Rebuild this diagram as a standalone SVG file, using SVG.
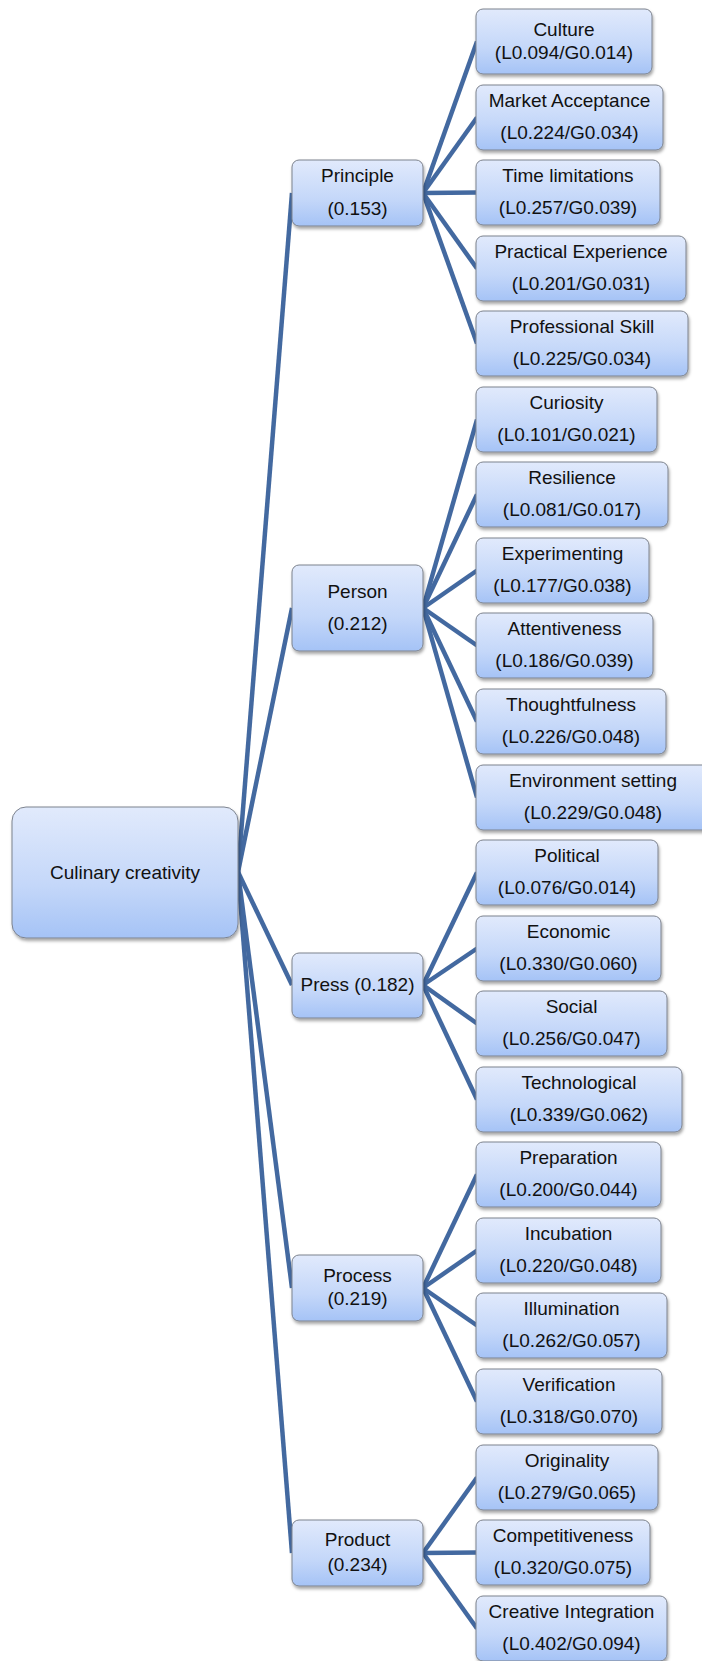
<svg xmlns="http://www.w3.org/2000/svg" width="702" height="1661" viewBox="0 0 702 1661">
<style>
.box{fill:url(#g);stroke:#7d838e;stroke-width:1;filter:url(#sh)}
.t{font-family:"Liberation Sans",Arial,sans-serif;font-size:19px;fill:#111;text-anchor:middle}
.c line{stroke:#4369a0;stroke-width:4.5}
</style>
<defs>
<linearGradient id="g" x1="0" y1="0" x2="0" y2="1">
<stop offset="0" stop-color="#e1eafc"/>
<stop offset="0.6" stop-color="#c4d7f9"/>
<stop offset="1" stop-color="#a5c3f6"/>
</linearGradient>
<filter id="sh" x="-10%" y="-10%" width="125%" height="130%">
<feDropShadow dx="1" dy="2.5" stdDeviation="1.5" flood-color="#000" flood-opacity="0.35"/>
</filter>
</defs>
<g id="connectors" class="c">
<line x1="238" y1="872" x2="292" y2="193"/>
<line x1="238" y1="872" x2="292" y2="608"/>
<line x1="238" y1="872" x2="292" y2="985"/>
<line x1="238" y1="872" x2="292" y2="1288"/>
<line x1="238" y1="872" x2="292" y2="1553"/>
<line x1="423" y1="193" x2="477" y2="41.5"/>
<line x1="423" y1="193" x2="477" y2="117.5"/>
<line x1="423" y1="193" x2="477" y2="192.5"/>
<line x1="423" y1="193" x2="477" y2="268.5"/>
<line x1="423" y1="193" x2="477" y2="343.5"/>
<line x1="423" y1="608" x2="477" y2="419.5"/>
<line x1="423" y1="608" x2="477" y2="494.5"/>
<line x1="423" y1="608" x2="477" y2="570.5"/>
<line x1="423" y1="608" x2="477" y2="645.5"/>
<line x1="423" y1="608" x2="477" y2="721.5"/>
<line x1="423" y1="608" x2="477" y2="797.5"/>
<line x1="423" y1="985" x2="477" y2="872.5"/>
<line x1="423" y1="985" x2="477" y2="948.5"/>
<line x1="423" y1="985" x2="477" y2="1023.5"/>
<line x1="423" y1="985" x2="477" y2="1099.5"/>
<line x1="423" y1="1288" x2="477" y2="1174.5"/>
<line x1="423" y1="1288" x2="477" y2="1250.5"/>
<line x1="423" y1="1288" x2="477" y2="1325.5"/>
<line x1="423" y1="1288" x2="477" y2="1401.5"/>
<line x1="423" y1="1553" x2="477" y2="1477.5"/>
<line x1="423" y1="1553" x2="477" y2="1552.5"/>
<line x1="423" y1="1553" x2="477" y2="1628.5"/>
</g>
<g id="root"><rect class="box" x="12" y="807" width="226" height="131" rx="14"/><text class="t" x="125" y="879">Culinary creativity</text></g>
<g id="principle"><rect class="box" x="292" y="160" width="131" height="66" rx="7"/><text class="t" x="357.5" y="182">Principle</text><text class="t" x="357.5" y="215">(0.153)</text></g>
<g id="person"><rect class="box" x="292" y="565" width="131" height="86" rx="7"/><text class="t" x="357.5" y="598">Person</text><text class="t" x="357.5" y="630">(0.212)</text></g>
<g id="press"><rect class="box" x="292" y="953" width="131" height="65" rx="7"/><text class="t" x="357.5" y="991">Press (0.182)</text></g>
<g id="process"><rect class="box" x="292" y="1255" width="131" height="66" rx="7"/><text class="t" x="357.5" y="1282">Process</text><text class="t" x="357.5" y="1305">(0.219)</text></g>
<g id="product"><rect class="box" x="292" y="1520" width="131" height="66" rx="7"/><text class="t" x="357.5" y="1546">Product</text><text class="t" x="357.5" y="1571">(0.234)</text></g>
<g id="culture"><rect class="box" x="476" y="9" width="176" height="65" rx="7"/><text class="t" x="564" y="36">Culture</text><text class="t" x="564" y="59">(L0.094/G0.014)</text></g>
<g id="market"><rect class="box" x="476" y="85" width="187" height="65" rx="7"/><text class="t" x="569.5" y="107">Market Acceptance</text><text class="t" x="569.5" y="139">(L0.224/G0.034)</text></g>
<g id="time"><rect class="box" x="476" y="160" width="184" height="65" rx="7"/><text class="t" x="568" y="182">Time limitations</text><text class="t" x="568" y="214">(L0.257/G0.039)</text></g>
<g id="practical"><rect class="box" x="476" y="236" width="210" height="65" rx="7"/><text class="t" x="581" y="258">Practical Experience</text><text class="t" x="581" y="290">(L0.201/G0.031)</text></g>
<g id="professional"><rect class="box" x="476" y="311" width="212" height="65" rx="7"/><text class="t" x="582" y="333">Professional Skill</text><text class="t" x="582" y="365">(L0.225/G0.034)</text></g>
<g id="curiosity"><rect class="box" x="476" y="387" width="181" height="65" rx="7"/><text class="t" x="566.5" y="409">Curiosity</text><text class="t" x="566.5" y="441">(L0.101/G0.021)</text></g>
<g id="resilience"><rect class="box" x="476" y="462" width="192" height="65" rx="7"/><text class="t" x="572" y="484">Resilience</text><text class="t" x="572" y="516">(L0.081/G0.017)</text></g>
<g id="experimenting"><rect class="box" x="476" y="538" width="173" height="65" rx="7"/><text class="t" x="562.5" y="560">Experimenting</text><text class="t" x="562.5" y="592">(L0.177/G0.038)</text></g>
<g id="attentiveness"><rect class="box" x="476" y="613" width="177" height="65" rx="7"/><text class="t" x="564.5" y="635">Attentiveness</text><text class="t" x="564.5" y="667">(L0.186/G0.039)</text></g>
<g id="thoughtfulness"><rect class="box" x="476" y="689" width="190" height="65" rx="7"/><text class="t" x="571" y="711">Thoughtfulness</text><text class="t" x="571" y="743">(L0.226/G0.048)</text></g>
<g id="environment"><rect class="box" x="476" y="765" width="234" height="65" rx="7"/><text class="t" x="593" y="787">Environment setting</text><text class="t" x="593" y="819">(L0.229/G0.048)</text></g>
<g id="political"><rect class="box" x="476" y="840" width="182" height="65" rx="7"/><text class="t" x="567" y="862">Political</text><text class="t" x="567" y="894">(L0.076/G0.014)</text></g>
<g id="economic"><rect class="box" x="476" y="916" width="185" height="65" rx="7"/><text class="t" x="568.5" y="938">Economic</text><text class="t" x="568.5" y="970">(L0.330/G0.060)</text></g>
<g id="social"><rect class="box" x="476" y="991" width="191" height="65" rx="7"/><text class="t" x="571.5" y="1013">Social</text><text class="t" x="571.5" y="1045">(L0.256/G0.047)</text></g>
<g id="technological"><rect class="box" x="476" y="1067" width="206" height="65" rx="7"/><text class="t" x="579" y="1089">Technological</text><text class="t" x="579" y="1121">(L0.339/G0.062)</text></g>
<g id="preparation"><rect class="box" x="476" y="1142" width="185" height="65" rx="7"/><text class="t" x="568.5" y="1164">Preparation</text><text class="t" x="568.5" y="1196">(L0.200/G0.044)</text></g>
<g id="incubation"><rect class="box" x="476" y="1218" width="185" height="65" rx="7"/><text class="t" x="568.5" y="1240">Incubation</text><text class="t" x="568.5" y="1272">(L0.220/G0.048)</text></g>
<g id="illumination"><rect class="box" x="476" y="1293" width="191" height="65" rx="7"/><text class="t" x="571.5" y="1315">Illumination</text><text class="t" x="571.5" y="1347">(L0.262/G0.057)</text></g>
<g id="verification"><rect class="box" x="476" y="1369" width="186" height="65" rx="7"/><text class="t" x="569" y="1391">Verification</text><text class="t" x="569" y="1423">(L0.318/G0.070)</text></g>
<g id="originality"><rect class="box" x="476" y="1445" width="182" height="65" rx="7"/><text class="t" x="567" y="1467">Originality</text><text class="t" x="567" y="1499">(L0.279/G0.065)</text></g>
<g id="competitiveness"><rect class="box" x="476" y="1520" width="174" height="65" rx="7"/><text class="t" x="563" y="1542">Competitiveness</text><text class="t" x="563" y="1574">(L0.320/G0.075)</text></g>
<g id="creative"><rect class="box" x="476" y="1596" width="191" height="65" rx="7"/><text class="t" x="571.5" y="1618">Creative Integration</text><text class="t" x="571.5" y="1650">(L0.402/G0.094)</text></g>
</svg>
